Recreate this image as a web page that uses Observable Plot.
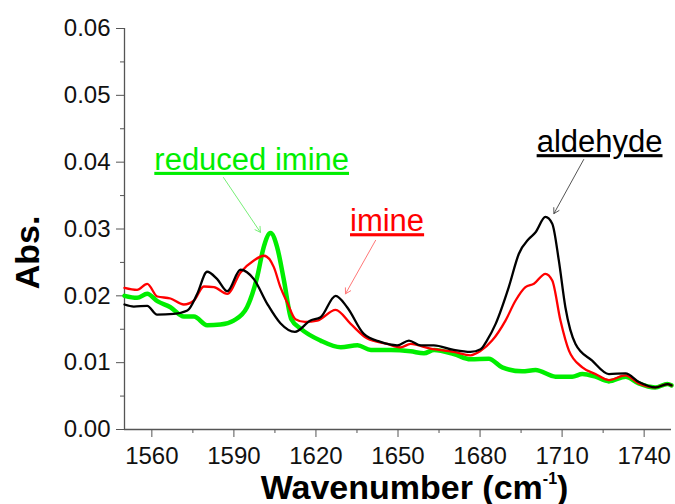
<!DOCTYPE html>
<html><head><meta charset="utf-8">
<script src="https://cdn.jsdelivr.net/npm/d3@7"></script>
<script src="https://cdn.jsdelivr.net/npm/@observablehq/plot@0.6"></script>
<style>body{margin:0;background:#fff}</style>
</head><body><div id="chart"></div>
<script>
// ---- data ----
const wnBlack = [1550,1553.4,1558.3,1561.9,1568,1573,1576.6,1580.2,1583.9,1587.6,1592.4,1597.3,1602.2,1607,1612.3,1618,1621.7,1627.2,1631.4,1637.5,1643.6,1649.7,1654,1658.3,1663.1,1670.4,1676.5,1680.2,1682.5,1685.7,1690.5,1694.2,1697.8,1700.3,1703.9,1706.4,1708.8,1711.2,1714.9,1721,1727.1,1733.2,1738.1,1744.2,1748.5,1750];
const absBlack = [0.0187,0.0184,0.0185,0.0172,0.0173,0.0178,0.0203,0.0236,0.0225,0.0207,0.0239,0.0225,0.0188,0.0159,0.0146,0.0163,0.0168,0.0200,0.0183,0.0143,0.0131,0.0126,0.0133,0.0126,0.0126,0.0119,0.0116,0.0120,0.0133,0.0158,0.0213,0.0263,0.0285,0.0295,0.0318,0.0308,0.0253,0.0183,0.0128,0.0103,0.0083,0.0084,0.0071,0.0063,0.0068,0.0066];

const wnRed = [1550,1554.6,1558.3,1562,1566.8,1571.7,1575.4,1579,1582.7,1587.6,1592.4,1597.3,1601,1604.6,1607,1609.5,1612.5,1616,1620.5,1627.2,1632.7,1638.8,1646.1,1651,1654.6,1661.9,1670.4,1676.5,1680,1684.4,1689.3,1693,1696.6,1699.7,1703.9,1706.4,1709.4,1712.5,1717.4,1722.2,1727.1,1733.2,1738,1744,1748.5,1750];
const absRed = [0.0212,0.0209,0.0218,0.0199,0.0196,0.0187,0.0193,0.0214,0.0213,0.0203,0.0235,0.0253,0.0260,0.0243,0.0213,0.0190,0.0165,0.0161,0.0163,0.0179,0.0158,0.0136,0.0128,0.0123,0.0128,0.0121,0.0116,0.0111,0.0117,0.0133,0.0163,0.0193,0.0213,0.0218,0.0233,0.0223,0.0163,0.0118,0.0093,0.0083,0.0074,0.0081,0.0069,0.0063,0.0068,0.0066];

const wnGreen = [1550,1554.6,1558.3,1562,1566.8,1571.7,1575.4,1580.2,1585.1,1589.9,1594.8,1598.5,1600.9,1603.4,1605.8,1608.3,1611,1614.4,1621.7,1629.1,1635.2,1640.1,1647.4,1654.6,1659.5,1663.2,1670.4,1676.5,1683.2,1688.1,1695.4,1700.3,1707.6,1713.7,1717.4,1722.2,1727.1,1733.2,1738,1744,1748.5,1750];
const absGreen = [0.0200,0.0197,0.0203,0.0192,0.0183,0.0169,0.0169,0.0156,0.0157,0.0163,0.0183,0.0228,0.0273,0.0294,0.0273,0.0223,0.0165,0.0151,0.0133,0.0123,0.0126,0.0119,0.0119,0.0117,0.0114,0.0119,0.0113,0.0105,0.0106,0.0093,0.0087,0.0089,0.0079,0.0079,0.0083,0.0079,0.0072,0.0079,0.0069,0.0063,0.0068,0.0066];

const xDomain = [1550, 1750];
const yDomain = [0, 0.06];
const xTicks = [1560,1590,1620,1650,1680,1710,1740];
const xMinorTicks = [1575,1605,1635,1665,1695,1725];
const yTicks = [0,0.01,0.02,0.03,0.04,0.05,0.06];
const yMinorTicks = [0.005,0.015,0.025,0.035,0.045,0.055];

const annLabels = ["reduced imine","imine","aldehyde"];
const annX = [1596.5,1646.0,1723.7];
const annY = [0.03885,0.02967,0.0415];
const arrowX1 = [1586.2,1641.8,1717.9];
const arrowY1 = [0.0377,0.0283,0.0404];
const arrowX2 = [1599.7,1630.8,1707.0];
const arrowY2 = [0.0295,0.0203,0.0323];

// ---- styles ----
const textColors = ["#00ee00","#ff0000","#000000"];
const arrowColors = ["#77ee77","#ff7777","#555555"];

const toRows = (xs, ys) => xs.map((x, i) => ({x, y: ys[i]}));
const green = toRows(wnGreen, absGreen);
const red = toRows(wnRed, absRed);
const black = toRows(wnBlack, absBlack);
const ann = annLabels.map((t, i) => ({t, x: annX[i], y: annY[i], x1: arrowX1[i], y1: arrowY1[i], x2: arrowX2[i], y2: arrowY2[i], c: textColors[i], ac: arrowColors[i]}));

const axisColor = "#555";
const chart = Plot.plot({
  width: 675, height: 504,
  marginLeft: 124, marginRight: 4, marginTop: 28, marginBottom: 75,
  x: {domain: xDomain},
  y: {domain: yDomain},
  style: {fontFamily: "'Liberation Sans', Arial, sans-serif", background: "#fff", color: "#111"},
  marks: [
    Plot.axisY({ticks: yMinorTicks, tickSize: 4, text: null, stroke: axisColor}),
    Plot.axisY({ticks: yTicks, tickSize: 8, tickPadding: 6, tickFormat: ".2f", fontSize: 24, stroke: axisColor, label: null}),
    Plot.axisX({ticks: xMinorTicks, tickSize: 4, text: null, stroke: axisColor}),
    Plot.axisX({ticks: xTicks, tickSize: 8, tickPadding: 9, tickFormat: d => String(d), fontSize: 24, stroke: axisColor, label: null}),
    Plot.ruleX([xDomain[0]], {stroke: axisColor, strokeWidth: 1.3}),
    Plot.ruleY([yDomain[0]], {stroke: axisColor, strokeWidth: 1.3}),
    Plot.line(green, {x: "x", y: "y", stroke: "#00ee00", strokeWidth: 4.5, curve: "monotone-x"}),
    Plot.line(red, {x: "x", y: "y", stroke: "#ff0000", strokeWidth: 2.3, curve: "monotone-x"}),
    Plot.line(black, {x: "x", y: "y", stroke: "#000000", strokeWidth: 2.3, curve: "monotone-x"}),
    Plot.arrow(ann, {x1: "x1", y1: "y1", x2: "x2", y2: "y2", stroke: "ac", strokeWidth: 1, headLength: 9, insetEnd: 0}),
    Plot.text(ann, {x: "x", y: "y", text: "t", fill: "c", fontSize: 31, lineAnchor: "bottom", textAnchor: "middle"}),
    Plot.text(["Abs."], {frameAnchor: "left", rotate: -90, textAnchor: "middle", dx: -86, dy: 23.5, lineAnchor: "bottom", fontSize: 34, fontWeight: "bold", fill: "#000"}),
    Plot.text(["Wavenumber"], {frameAnchor: "bottom", textAnchor: "middle", dx: 16.5, dy: 69, lineAnchor: "bottom", fontSize: 34, fontWeight: "bold", fill: "#000"})
  ]
});
document.getElementById("chart").appendChild(chart);

const svg = d3.select(chart);
svg.selectAll("text").filter(function() { return annLabels.includes(this.textContent); })
  .style("text-decoration", "underline");
const xl = svg.selectAll("text").filter(function() { return this.textContent === "Wavenumber"; });
xl.text(null);
xl.append("tspan").text("Wavenumber (cm");
xl.append("tspan").attr("font-size", "16px").attr("dy", "-15").text("-1");
xl.append("tspan").attr("dy", "15").text(")");
</script>
</body></html>
